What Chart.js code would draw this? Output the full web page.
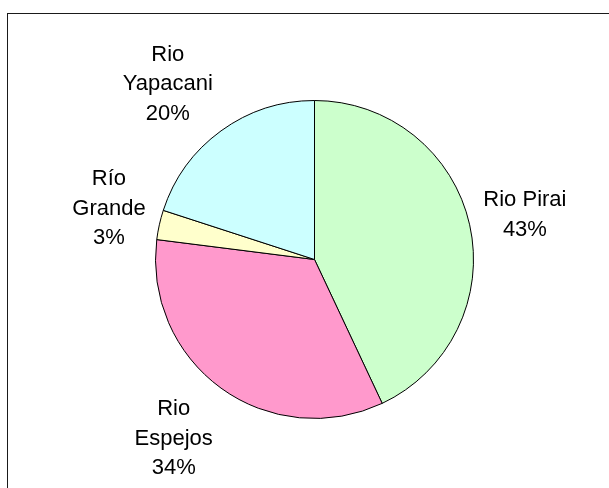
<!DOCTYPE html>
<html>
<head>
<meta charset="utf-8">
<style>
  html, body { margin: 0; padding: 0; background: #ffffff; overflow: hidden; }
  #wrap { position: relative; width: 609px; height: 488px; }
  #frame { position: absolute; left: 7px; top: 13px; width: 620px; height: 500px;
           border-left: 1px solid #1a1a1a; border-top: 1px solid #1a1a1a; pointer-events: none; }
  canvas { position: absolute; left: 0; top: 0; }
</style>
<script src="https://cdn.jsdelivr.net/npm/chart.js@4"></script>
</head>
<body>
<div id="wrap">
  <canvas id="chart" width="609" height="488"></canvas>
  <div id="frame"></div>
</div>
<script>
// Share of each river (percent)
const rivers = ['Rio Pirai', 'Rio Espejos', 'Río Grande', 'Rio Yapacani'];
const shares = [43, 34, 3, 20];
// Label lines printed beside each slice
const labelLines = [
  ['Rio Pirai', '43%'],
  ['Rio', 'Espejos', '34%'],
  ['Río', 'Grande', '3%'],
  ['Rio', 'Yapacani', '20%']
];
const sliceColors = ['#CCFFCC', '#FF99CC', '#FFFFCC', '#CCFFFF'];

const FONT_SIZE = 22;
const LINE_H = 29.5;

// Outside labels placed from each arc's own geometry
const outsideLabels = {
  id: 'outsideLabels',
  afterDatasetsDraw(chart) {
    const ctx = chart.ctx;
    const arcs = chart.getDatasetMeta(0).data;
    ctx.save();
    ctx.font = FONT_SIZE + 'px "Liberation Sans", Arial, sans-serif';
    ctx.fillStyle = '#000000';
    ctx.textAlign = 'center';
    ctx.textBaseline = 'alphabetic';
    const capH = FONT_SIZE * 0.716;
    arcs.forEach((arc, i) => {
      const p = arc.getProps(['x', 'y', 'startAngle', 'endAngle', 'outerRadius'], true);
      const mid = (p.startAngle + p.endAngle) / 2;
      const dx = Math.cos(mid), dy = Math.sin(mid);
      const lines = labelLines[i];
      const halfW = Math.max(...lines.map(t => ctx.measureText(t).width)) / 2;
      const halfH = ((lines.length - 1) * LINE_H + capH) / 2;
      const R = p.outerRadius + 14;
      const kx = Math.max(-1, Math.min(1, dx * 1.8));
      const ky = Math.max(-1, Math.min(1, dy * 1.8));
      const cx = p.x + dx * R + kx * halfW;
      const cy = p.y + dy * R + ky * halfH;
      const firstBase = cy - halfH + capH;
      lines.forEach((t, j) => ctx.fillText(t, cx, firstBase + j * LINE_H));
    });
    ctx.restore();
  }
};

new Chart(document.getElementById('chart'), {
  type: 'pie',
  data: {
    labels: rivers,
    datasets: [{
      data: shares,
      backgroundColor: sliceColors,
      borderColor: '#000000',
      borderWidth: 1,
      borderAlign: 'center'
    }]
  },
  options: {
    responsive: false,
    animation: false,
    layout: { padding: { left: 155, right: 135, top: 100, bottom: 69 } },
    plugins: {
      legend: { display: false },
      tooltip: { enabled: false }
    }
  },
  plugins: [outsideLabels]
});
</script>
</body>
</html>
